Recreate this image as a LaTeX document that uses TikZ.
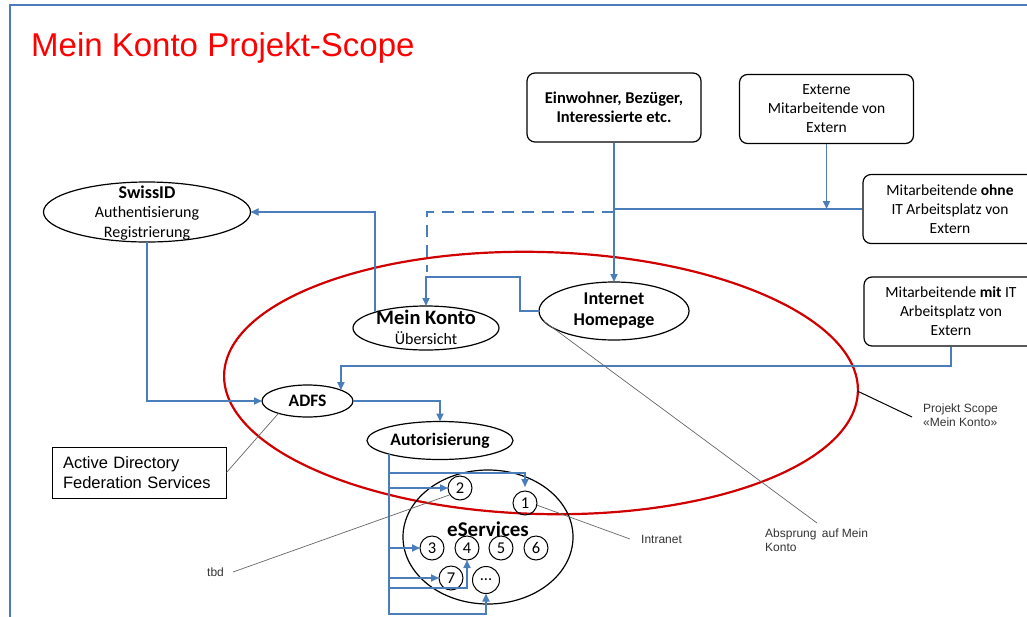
\documentclass[tikz,border=0pt]{standalone}
\usepackage{fontspec}
\setmainfont{Carlito}
\newfontfamily\arial{Liberation Sans}
\usetikzlibrary{shapes.geometric,arrows.meta,calc}
\definecolor{lnblue}{HTML}{4A7EBB}
\definecolor{scopered}{HTML}{D00000}
\definecolor{txtgray}{HTML}{333333}
\tikzset{
  conn/.style={draw=lnblue, line width=1.8pt},
  arr/.style={conn, -{Triangle[length=8pt,width=7pt]}},
  rbox/.style={draw=black, line width=1.2pt, rounded corners=8pt, minimum width=174pt, minimum height=69pt, align=center, inner sep=0pt, font=\fontsize{15.5}{19}\selectfont},
  ell/.style={ellipse, draw=black, line width=1.2pt, inner sep=0pt, outer sep=0pt},
  etxt/.style={align=center, inner sep=0pt},
  num/.style={circle, draw=black, line width=1pt, minimum size=24pt, inner sep=0pt, outer sep=0pt, font=\fontsize{16.5}{16}\selectfont},
  call/.style={draw=gray!80!black, line width=0.7pt},
  lab/.style={font=\arial\fontsize{12}{14}\selectfont, text=txtgray, align=left, inner sep=0pt},
}
\begin{document}
\begin{tikzpicture}[x=1pt,y=-1pt]
\useasboundingbox (0,0) rectangle (1027,616);
\clip (0,0) rectangle (1027,616);
% frame
\draw[lnblue, line width=2pt] (10,620) -- (10,5) -- (1030,5);
% title
\node[anchor=base west, inner sep=0pt, text=red, font=\arial\fontsize{33}{33}\selectfont] (title) at (31,56) {Mein Konto Projekt-Scope};
% project scope ellipse
\node[ellipse, draw=scopered, line width=2.2pt, minimum width=634pt, minimum height=262pt, inner sep=0pt, outer sep=0pt, rotate=-1.5] (scope) at (541,383) {};
% boxes
\node[rbox, font=\fontsize{16.5}{19}\selectfont\bfseries] (ew) at (614,107.5) {Einwohner, Bezüger,\\Interessierte etc.};
\node[rbox] (ex) at (826.5,109) {Externe\\Mitarbeitende von\\Extern};
\node[rbox] (mo) at (950,209) {Mitarbeitende \textbf{ohne}\\IT Arbeitsplatz von\\Extern};
\node[rbox] (mi) at (951,311.5) {Mitarbeitende \textbf{mit} IT\\Arbeitsplatz von\\Extern};
% ellipses
\node[ell, minimum width=207pt, minimum height=60pt] (sw) at (147,212) {};
\node[etxt, anchor=base, font=\fontsize{16}{19.5}\selectfont] (swt) at (147,237) {{\fontsize{18}{19.5}\selectfont\bfseries SwissID}\\Authentisierung\\Registrierung};
\node[ell, minimum width=146pt, minimum height=44pt] (mk) at (426,328) {};
\node[etxt, anchor=base, font=\fontsize{20.5}{20}\selectfont] (mkt) at (426,344) {\textbf{Mein Konto}\\{\fontsize{16}{20}\selectfont Übersicht}};
\node[ell, minimum width=150pt, minimum height=58pt] (ih) at (614,311) {};
\node[etxt, font=\fontsize{18}{21}\selectfont\bfseries] (iht) at (614,311) {Internet\\Homepage};
\node[ell, minimum width=91pt, minimum height=32pt] (adfs) at (307.5,401) {};
\node[etxt, font=\fontsize{17.5}{20}\selectfont\bfseries] (adfst) at (307.5,401) {ADFS};
\node[ell, minimum width=146pt, minimum height=38pt] (au) at (440,440.5) {};
\node[etxt, font=\fontsize{17.5}{20}\selectfont\bfseries] (aut) at (440,440.5) {Autorisierung};
\node[ell, minimum width=170pt, minimum height=134pt] (es) at (488,537) {};
\node[etxt, font=\fontsize{21}{21}\selectfont\bfseries] (est) at (488,529) {eServices};
% numbered circles
\node[num] (c1) at (525,503) {1};
\node[num] (c2) at (460,488) {2};
\node[num] (c3) at (432,548) {3};
\node[num] (c4) at (467,548) {4};
\node[num] (c5) at (501,548) {5};
\node[num] (c6) at (536,548) {6};
\node[num] (c7) at (451,578) {7};
\node[num, minimum size=27pt] (cd) at (486,580) {...};
% AD box
\node[draw=black, line width=1pt, text width=152pt, inner xsep=11pt, inner ysep=0pt, minimum height=51pt, align=left, font=\arial\fontsize{16.5}{20}\selectfont] (ad) at (139,472.5) {Active Directory\\Federation Services};
% labels
\node[lab, anchor=base west] (tbd) at (207,576) {tbd};
\node[lab, anchor=base west] (intr) at (641,543) {Intranet};
\node[lab, anchor=north west] (absp) at (765,529) {Absprung\hspace{0.45em}auf Mein\\Konto};
\node[lab, anchor=north west] (ps) at (923,404) {Projekt Scope\\«Mein Konto»};
% helper coordinates
\coordinate (d0) at (614,212);
\coordinate (d1) at (427,272);
\coordinate (yl) at (0,366);
\coordinate (y1) at (0,473);
\coordinate (y5) at (0,588);
\coordinate (ybot) at (0,614);
\coordinate (tbdend) at (233,572);
\coordinate (intrend) at (630,539);
\coordinate (absend) at (817,523);
\coordinate (psend) at (912,417);
% connectors
\draw[arr] (ew.south) -- (ih.north);
\draw[conn] (ew.south |- mo.west) -- (mo.west);
\draw[arr] (ex.south) -- (ex.south |- mo.west);
\draw[conn, dash pattern=on 12pt off 8pt] (d0) -| (d1);
\draw[arr] (ih.west) -- (520,311) -- (520,277) -| (mk.north);
\draw[arr] (mk.163) |- (sw.east);
\draw[arr] (sw.south) |- (adfs.west);
\draw[arr] (mi.south) |- (adfs.18 |- yl) -- (adfs.18);
\draw[arr] (adfs.east) -| (au.north);
\draw[arr] (au.195) -- (au.195 |- ybot) -| (cd.south);
\draw[arr] (au.195 |- y1) -| ([yshift=4pt]c1.north);
\draw[arr] (au.195 |- c2.west) -- (c2.west);
\draw[arr] (au.195 |- c3.west) -- (c3.west);
\draw[arr] (au.195 |- c7.west) -- (c7.west);
\draw[arr] (au.195 |- y5) -| (c4.south);
% callouts
\draw[call] (ad.east) -- (adfs.203);
\draw[call] (c2.214) -- (tbdend);
\draw[call] (c1.-10) -- (intrend);
\draw[call] (ih.188) -- (absend);
\draw[black, line width=1pt] (scope.east) -- (psend);
\end{tikzpicture}
\end{document}
